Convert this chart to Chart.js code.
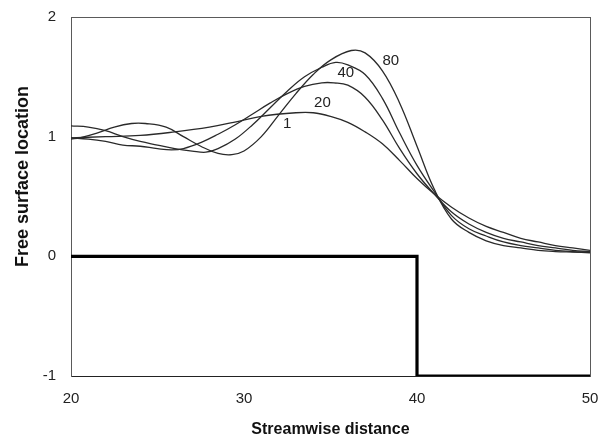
<!DOCTYPE html>
<html>
<head>
<meta charset="utf-8">
<script src="https://cdn.jsdelivr.net/npm/chart.js@4"></script>
<style>
  html, body { margin: 0; padding: 0; background: #fff; }
  #wrap { width: 604px; height: 447px; }
</style>
</head>
<body>
<div id="wrap"><canvas id="c" width="604" height="447"></canvas></div>
<script>
// ---- data ----
const xTicks = [20, 30, 40, 50];
const yTicks = [-1, 0, 1, 2];

const x1  = [20,22,24,26,28,29.4,31,33,34,35,36,37,38,39,40,41,42,43,44,45,46,47,48,49,50];
const y1  = [0.99,1.0,1.01,1.04,1.08,1.12,1.17,1.2,1.2,1.17,1.12,1.04,0.94,0.8,0.65,0.52,0.41,0.32,0.25,0.2,0.15,0.12,0.09,0.07,0.05];

const x20 = [20,21,22,23,24,25,25.8,26.5,27.5,28.5,29.5,30.5,31.5,32.5,33.5,34.5,35.2,36,37,38,39,40,41,42,43,44,45,46,47,48,49,50];
const y20 = [0.99,0.98,0.96,0.93,0.92,0.9,0.89,0.9,0.95,1.02,1.1,1.19,1.28,1.36,1.42,1.45,1.45,1.43,1.33,1.14,0.9,0.69,0.52,0.37,0.27,0.2,0.15,0.12,0.09,0.07,0.05,0.04];

const x40 = [20,21,22,23,24,25,26,27,27.8,28.5,29.5,30.5,31.5,32.5,33.5,34.5,35.3,36,37,38,39,40,41,42,43,44,45,46,47,48,49,50];
const y40 = [1.09,1.08,1.05,1.0,0.96,0.93,0.9,0.88,0.87,0.9,0.98,1.1,1.24,1.38,1.5,1.58,1.62,1.6,1.52,1.32,1.03,0.76,0.54,0.34,0.23,0.17,0.12,0.09,0.07,0.05,0.04,0.035];

const x80 = [20,20.5,21.5,22.5,23.5,24.3,25.5,26.5,27.5,28.5,29.3,30,31,32,33,34,35,36.2,37,38,39,40,41,42,43,44,45,46,47,48,49,50];
const y80 = [0.98,0.99,1.03,1.08,1.11,1.11,1.08,1.0,0.92,0.86,0.85,0.88,1.0,1.18,1.36,1.52,1.64,1.72,1.7,1.55,1.28,0.92,0.56,0.31,0.2,0.13,0.09,0.07,0.05,0.04,0.035,0.03];

// bottom step (bed)
const stepX = [20, 40, 40, 50];
const stepY = [0, 0, -1, -1];

// curve labels
const labelText = ['1', '20', '40', '80'];
const labelX = [32.25, 34.05, 35.4, 38.0];
const labelY = [1.11, 1.28, 1.53, 1.63];

const zip = (xs, ys) => xs.map((x, i) => ({x: x, y: ys[i]}));

const curveStyle = {
  borderColor: '#2a2a2a', borderWidth: 1.3, pointRadius: 0, showLine: true,
  tension: 0.4, fill: false
};

const FONT = '"Liberation Sans", Arial, sans-serif';

const overlayPlugin = {
  id: 'overlay',
  afterLayout(chart) {
    // lift the vertical axis title a little, as in the reference
    chart.scales.y.top -= 40;
  },
  afterDatasetsDraw(chart) {
    const ctx = chart.ctx, xs = chart.scales.x, ys = chart.scales.y;
    ctx.save();
    ctx.fillStyle = '#222';
    ctx.font = '15px ' + FONT;
    ctx.textAlign = 'left';
    ctx.textBaseline = 'middle';
    labelText.forEach((t, i) => {
      ctx.fillText(t, xs.getPixelForValue(labelX[i]), ys.getPixelForValue(labelY[i]));
    });
    ctx.restore();
  }
};

const frameAxis = (pos, color) => ({
  type: 'linear', position: pos,
  min: (pos === 'top') ? 20 : -1, max: (pos === 'top') ? 50 : 2,
  display: true, weight: -1,
  grid: { display: false, drawTicks: false, tickLength: 0 },
  ticks: { display: false },
  border: { display: true, color: color, width: 1 },
  title: { display: false }
});

new Chart(document.getElementById('c'), {
  type: 'scatter',
  data: {
    datasets: [
      Object.assign({label: '1',  data: zip(x1, y1)}, curveStyle),
      Object.assign({label: '20', data: zip(x20, y20)}, curveStyle),
      Object.assign({label: '40', data: zip(x40, y40)}, curveStyle),
      Object.assign({label: '80', data: zip(x80, y80)}, curveStyle),
      {label: 'bed', data: zip(stepX, stepY), showLine: true, tension: 0,
       borderColor: '#000', borderWidth: 3.2, pointRadius: 0, fill: false}
    ]
  },
  options: {
    responsive: false,
    animation: false,
    devicePixelRatio: 1,
    layout: { padding: { top: 17, right: 14, left: 0, bottom: 0 } },
    plugins: { legend: { display: false }, tooltip: { enabled: false } },
    scales: {
      x: {
        type: 'linear', min: 20, max: 50,
        afterBuildTicks: (s) => { s.ticks = xTicks.map(v => ({value: v})); },
        afterFit: (s) => { s.height = 71; },
        grid: { display: false, drawTicks: true, tickLength: 14 },
        border: { display: true, color: '#222', width: 1 },
        ticks: { padding: 0, color: '#222', font: { size: 15, family: FONT } },
        title: { display: true, text: 'Streamwise distance', color: '#111',
                 padding: { top: 0, bottom: 8 },
                 font: { size: 16, weight: 'bold', family: FONT } }
      },
      y: {
        type: 'linear', min: -1, max: 2,
        afterBuildTicks: (s) => { s.ticks = yTicks.map(v => ({value: v})); },
        afterFit: (s) => { s.width = 71; },
        grid: { display: false, drawTicks: true, tickLength: 15 },
        border: { display: false },
        ticks: { padding: 0, color: '#222', font: { size: 15, family: FONT } },
        title: { display: true, text: 'Free surface location', color: '#111',
                 padding: { top: 12, bottom: 0 },
                 font: { size: 18, weight: 'bold', family: FONT } }
      },
      yLeft: frameAxis('left', '#5a5a5a'),
      xTop: frameAxis('top', '#5a5a5a'),
      yRight: frameAxis('right', '#5a5a5a')
    }
  },
  plugins: [overlayPlugin]
});
</script>
</body>
</html>
